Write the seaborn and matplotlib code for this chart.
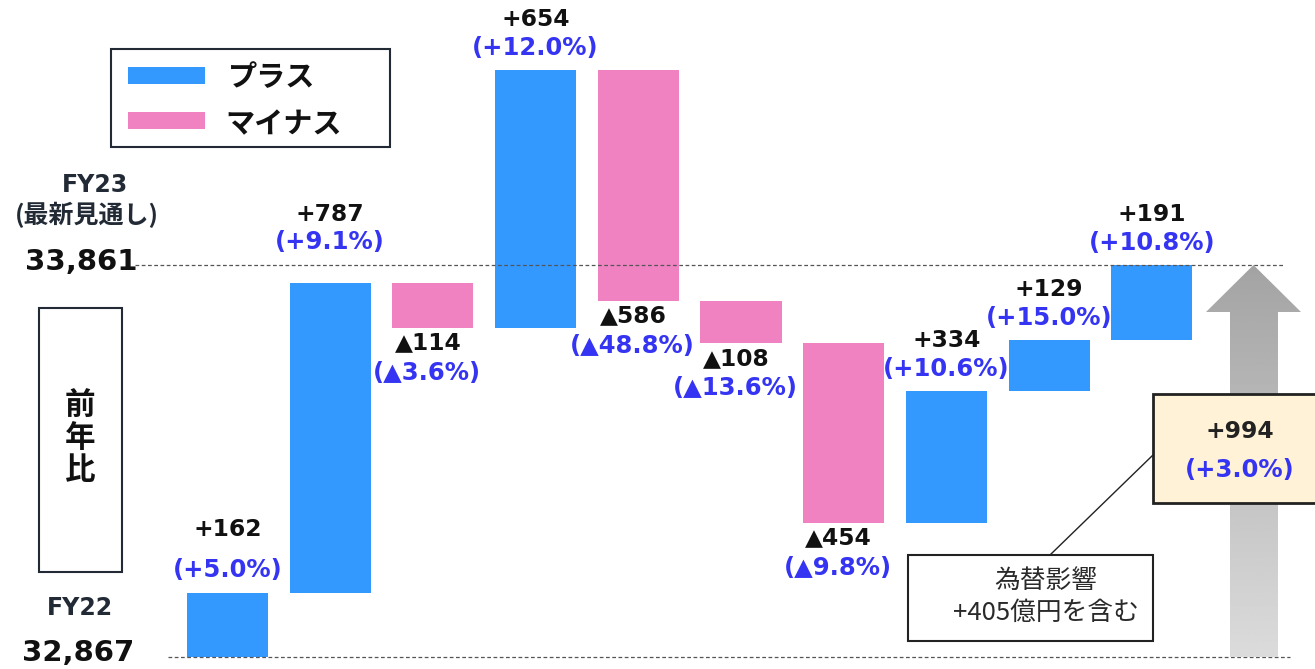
import numpy as np
import pandas as pd
import matplotlib
matplotlib.use("Agg")
import matplotlib.pyplot as plt
import seaborn as sns
from matplotlib.patches import Rectangle, Polygon

# ---------------- data ----------------
start_value = 32867
end_value = 33861
total_change = "+994"
total_pct = "(+3.0%)"
steps = [162, 787, -114, 654, -586, -108, -454, 334, 129, 191]
value_labels = ["+162", "+787", "▲114", "+654", "▲586", "▲108", "▲454", "+334", "+129", "+191"]
pct_labels = ["(+5.0%)", "(+9.1%)", "(▲3.6%)", "(+12.0%)", "(▲48.8%)", "(▲13.6%)",
              "(▲9.8%)", "(+10.6%)", "(+15.0%)", "(+10.8%)"]
legend_labels = ["プラス", "マイナス"]
note_lines = ["為替影響", "+405億円を含む"]

BLUE = "#3399FF"
PINK = "#F082C2"
TXT_BLUE = "#3434F2"
DARK = "#222A35"

sns.set_theme(style="white")
plt.rcParams["font.family"] = ["DejaVu Sans", "Noto Sans CJK JP"]
JP = ["Noto Sans CJK JP", "DejaVu Sans"]
NUM = ["DejaVu Sans", "Noto Sans CJK JP"]

W, H = 1315, 669
fig = plt.figure(figsize=(W / 100, H / 100), dpi=100)

# waterfall table
cum = np.cumsum([start_value] + steps)
df = pd.DataFrame({
    "idx": np.arange(len(steps)),
    "height": np.abs(steps),
    "bottom": np.minimum(cum[:-1], cum[1:]),
    "top": np.maximum(cum[:-1], cum[1:]),
    "sign": ["plus" if s > 0 else "minus" for s in steps],
})

ax = fig.add_axes([0, 0, 1, 1])
sns.barplot(data=df, x="idx", y="height", hue="sign", palette={"plus": BLUE, "minus": PINK},
            dodge=False, width=0.79, legend=False, ax=ax, saturation=1)
for p in ax.patches:
    i = int(round(p.get_x() + p.get_width() / 2))
    if 0 <= i < len(df) and p.get_height() > 0:
        p.set_y(df.loc[i, "bottom"])
        p.set_height(df.loc[i, "height"])
        p.set_edgecolor("none")

ax.set_xlim(-2.215, 10.589)
ax.set_ylim(32836.6, 34533)
ax.axis("off")

# dashed reference lines
ax.plot([-0.9, 10.3], [end_value, end_value], ls=(0, (3, 2)), color="#555555", lw=0.9, zorder=1)
ax.plot([-0.58, 10.35], [start_value, start_value], ls=(0, (3, 2)), color="#555555", lw=0.9, zorder=1)

# label offsets (pixels above bar top / below bar bottom)
pos_off = {0: (64, 23), 1: (68, 41)}
VAL_FS, PCT_FS = 16.8, 17.5
for i, row in df.iterrows():
    if steps[i] > 0:
        v_off, p_off = pos_off.get(i, (50, 22))
        ax.annotate(value_labels[i], (i, row["top"]), xytext=(0, v_off), textcoords="offset pixels",
                    ha="center", va="center", fontsize=VAL_FS, fontweight="bold", color="#111111", family=NUM)
        ax.annotate(pct_labels[i], (i, row["top"]), xytext=(0, p_off), textcoords="offset pixels",
                    ha="center", va="center", fontsize=PCT_FS, fontweight="bold", color=TXT_BLUE, family=NUM)
    else:
        ax.annotate(value_labels[i], (i, row["bottom"]), xytext=(-5, -15), textcoords="offset pixels",
                    ha="center", va="center", fontsize=VAL_FS, fontweight="bold", color="#111111", family=NUM)
        ax.annotate(pct_labels[i], (i, row["bottom"]), xytext=(-6, -45), textcoords="offset pixels",
                    ha="center", va="center", fontsize=PCT_FS, fontweight="bold", color=TXT_BLUE, family=NUM)

# ---------------- overlay in pixel coords ----------------
oa = fig.add_axes([0, 0, 1, 1], facecolor="none")
oa.set_xlim(0, W)
oa.set_ylim(H, 0)
oa.axis("off")

# gradient arrow
arrow = Polygon([(1230, 657), (1278, 657), (1278, 312), (1301, 312), (1253.5, 265),
                 (1206, 312), (1230, 312)], closed=True, facecolor="none", edgecolor="none")
oa.add_patch(arrow)
grad = np.linspace(0.64, 0.86, 256).reshape(-1, 1)
im = oa.imshow(grad, extent=[1206, 1301, 657, 265], cmap="gray", vmin=0, vmax=1,
               aspect="auto", origin="upper", zorder=2)
im.set_clip_path(arrow)
oa.set_xlim(0, W)
oa.set_ylim(H, 0)

# total callout
oa.add_patch(Rectangle((1153, 394), 170, 109, facecolor="#FFF2D6", edgecolor="#222222", lw=2, zorder=4))
oa.text(1240, 432, total_change, ha="center", va="center", fontsize=VAL_FS, fontweight="bold",
        color="#222222", family=NUM, zorder=5)
oa.text(1240, 470, total_pct, ha="center", va="center", fontsize=PCT_FS, fontweight="bold",
        color=TXT_BLUE, family=NUM, zorder=5)
oa.plot([1050, 1153], [555, 455], color="#222222", lw=1, zorder=3)

# FX note box
oa.add_patch(Rectangle((908, 555), 245, 86, facecolor="white", edgecolor="#222222", lw=1.5, zorder=4))
oa.text(1046, 581, note_lines[0], ha="center", va="center", fontsize=18.5, color="#2a2a2a",
        family=JP, zorder=5)
oa.text(1046, 613, note_lines[1], ha="center", va="center", fontsize=18.5, color="#2a2a2a",
        family=JP, zorder=5)

# left annotations
oa.text(95, 185, "FY23", ha="center", va="center", fontsize=17, fontweight="bold", color=DARK, family=NUM)
oa.text(87, 215, "(最新見通し)", ha="center", va="center", fontsize=18, fontweight="bold", color=DARK, family=JP)
oa.text(81, 262, f"{end_value:,}", ha="center", va="center", fontsize=21, fontweight="bold", color="#111111", family=NUM)
oa.text(80, 608, "FY22", ha="center", va="center", fontsize=17, fontweight="bold", color=DARK, family=NUM)
oa.text(78, 653, f"{start_value:,}", ha="center", va="center", fontsize=21, fontweight="bold", color="#111111", family=NUM)

oa.add_patch(Rectangle((39, 308), 83, 264, facecolor="white", edgecolor=DARK, lw=1.5))
oa.text(80, 438, "前\n年\n比", ha="center", va="center", fontsize=22, fontweight="bold", color="#111111",
        family=JP, linespacing=1.0)

# legend
oa.add_patch(Rectangle((111, 49), 279, 98, facecolor="white", edgecolor=DARK, lw=1.5))
oa.add_patch(Rectangle((128, 67), 77, 17, facecolor=BLUE, edgecolor="none"))
oa.add_patch(Rectangle((128, 112), 77, 17, facecolor=PINK, edgecolor="none"))
oa.text(228, 77, legend_labels[0], ha="left", va="center", fontsize=21, fontweight="bold", color="#111111", family=JP)
oa.text(225, 124, legend_labels[1], ha="left", va="center", fontsize=21, fontweight="bold", color="#111111", family=JP)

fig.savefig("out.png", dpi=100, facecolor="white")
